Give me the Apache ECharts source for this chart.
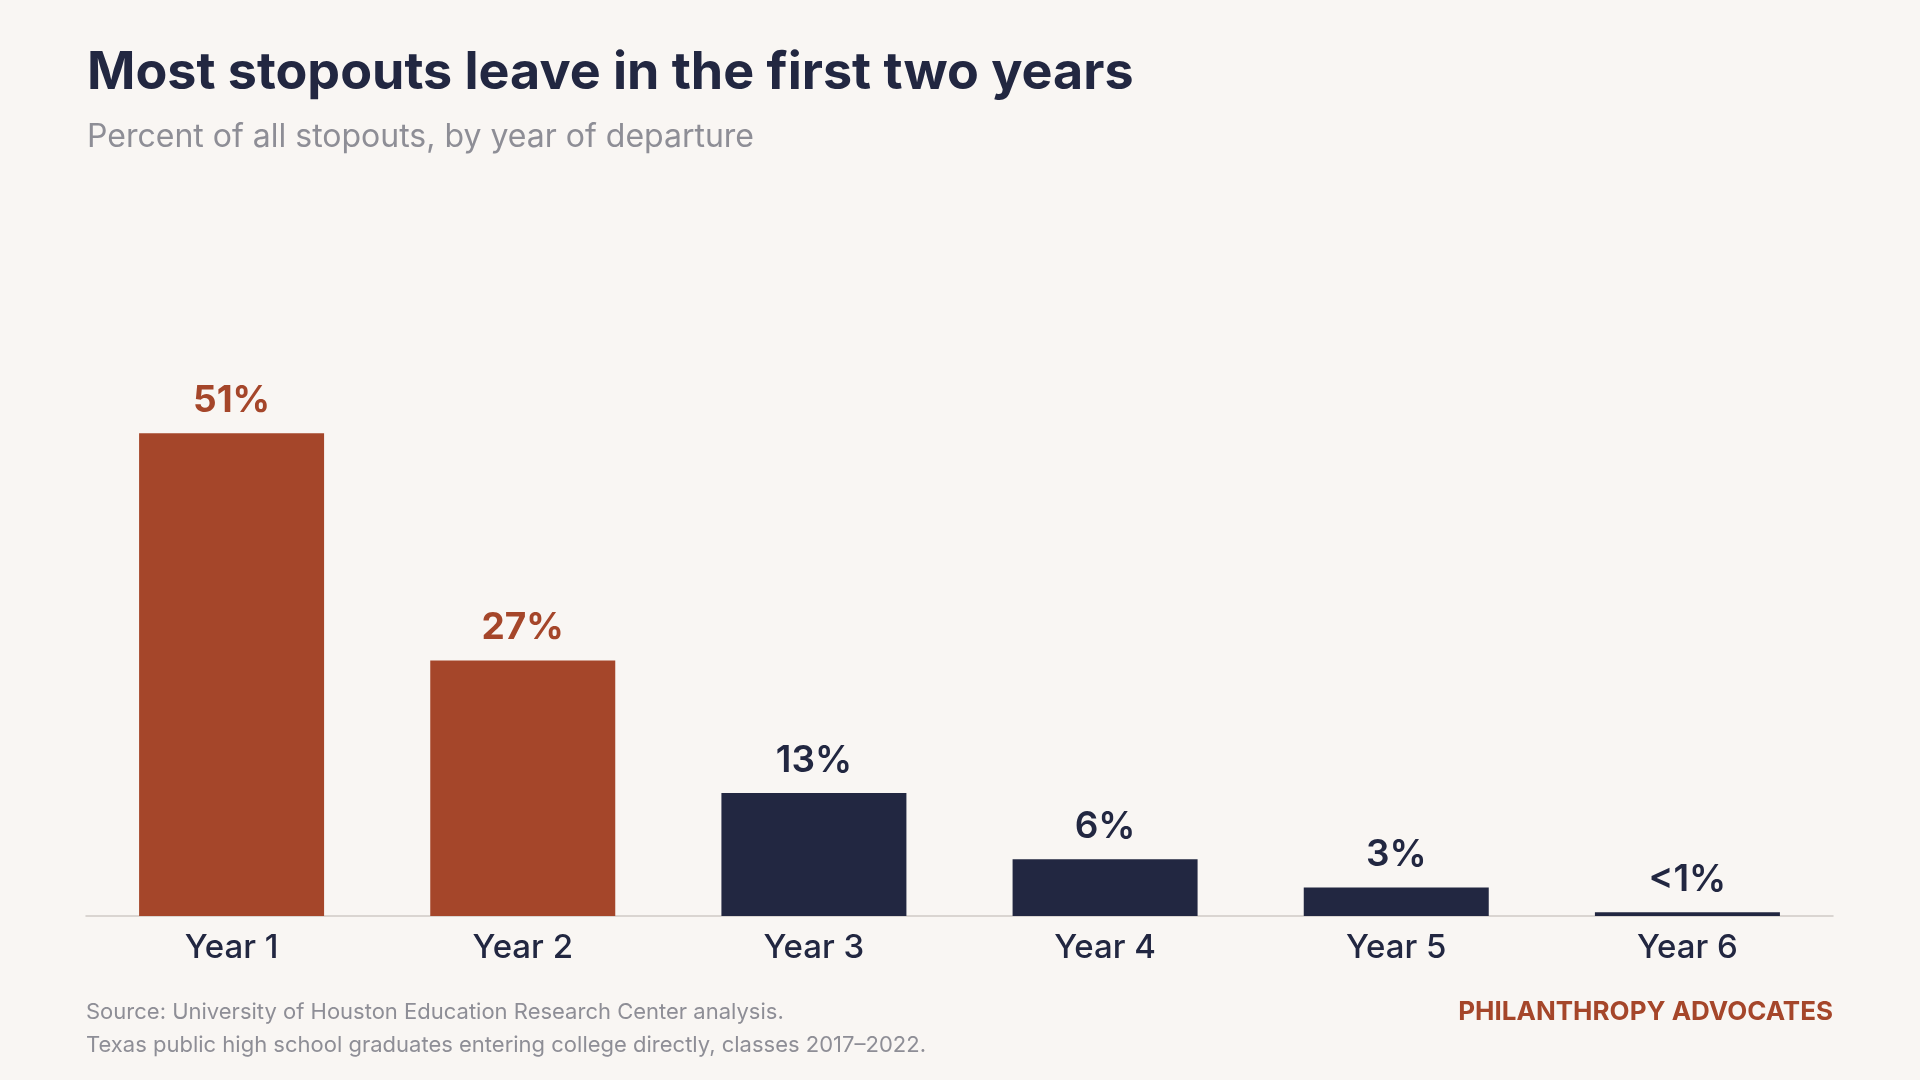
<!DOCTYPE html>
<html>
<head>
    <meta charset="utf-8">
    <script src="https://cdn.jsdelivr.net/npm/echarts@6/dist/echarts.min.js"></script>
    <style>
        html, body { margin: 0; padding: 0; background: #f9f6f3; }
        #main { width: 1920px; height: 1080px; }
    </style>
</head>
<body>
<div id="main"></div>
<script>
    var rust = '#a5462a';
    var navy = '#222741';
    var years = ['Year 1', 'Year 2', 'Year 3', 'Year 4', 'Year 5', 'Year 6'];
    var values = [51, 27, 13, 6, 3, 0.4];
    var labels = ['51%', '27%', '13%', '6%', '3%', '<1%'];

    var chart = echarts.init(document.getElementById('main'));
    chart.setOption({
        backgroundColor: '#f9f6f3',
        textStyle: { fontFamily: 'Inter' },
        title: {
            text: 'Most stopouts leave in the first two years',
            subtext: 'Percent of all stopouts, by year of departure',
            left: 82, top: 42,
            itemGap: 22,
            textStyle: { fontSize: 52, fontWeight: 'bold', color: navy, fontFamily: 'Inter' },
            subtextStyle: { fontSize: 32, color: '#8e8e96', fontFamily: 'Inter' }
        },
        grid: { left: 86, right: 87, top: 348, bottom: 164 },
        xAxis: {
            type: 'category',
            data: years,
            axisLine: { lineStyle: { color: '#cfcac6', width: 1.5 } },
            axisTick: { show: false },
            axisLabel: { fontSize: 33, fontWeight: 500, color: navy, margin: 16 }
        },
        yAxis: { type: 'value', min: 0, max: 60, show: false },
        series: [{
            type: 'bar',
            barWidth: 185,
            data: values.map(function (v, i) {
                var c = i < 2 ? rust : navy;
                return {
                    value: v,
                    itemStyle: { color: c },
                    label: { color: c, fontWeight: i < 2 ? 'bold' : 600 }
                };
            }),
            label: {
                show: true,
                position: 'top',
                distance: 14,
                fontSize: 37,
                formatter: function (p) { return labels[p.dataIndex]; }
            }
        }],
        graphic: [
            { type: 'text', left: 86, top: 1001,
              style: { text: 'Source: University of Houston Education Research Center analysis.', fontSize: 22, fill: '#8e8e96', fontFamily: 'Inter' } },
            { type: 'text', left: 86, top: 1034,
              style: { text: 'Texas public high school graduates entering college directly, classes 2017\u20132022.', fontSize: 22, fill: '#8e8e96', fontFamily: 'Inter' } },
            { type: 'text', right: 87, top: 999,
              style: { text: 'PHILANTHROPY ADVOCATES', fontSize: 26, fontWeight: 'bold', fill: rust, fontFamily: 'Inter' } }
        ]
    });
</script>
</body>
</html>
